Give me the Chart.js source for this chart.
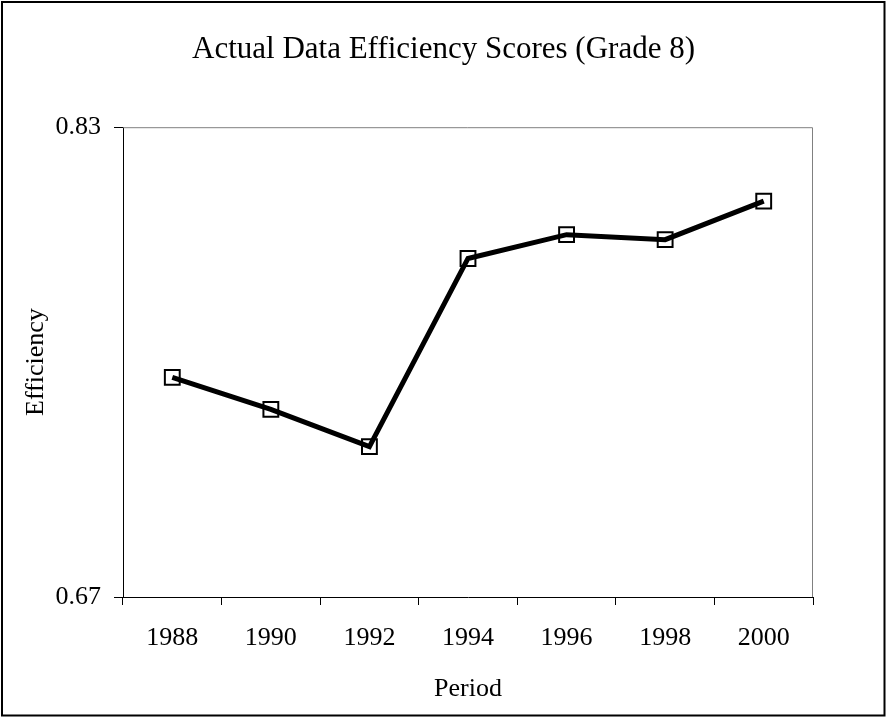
<!DOCTYPE html>
<html>
<head>
<meta charset="utf-8">
<title>Actual Data Efficiency Scores (Grade 8)</title>
<script src="https://cdn.jsdelivr.net/npm/chart.js@4"></script>
<style>
  html, body { margin: 0; padding: 0; background: #fff; }
  canvas { display: block; }
</style>
</head>
<body>
<canvas id="chart" width="887" height="717"></canvas>
<script>
// data
const periods = ['1988', '1990', '1992', '1994', '1996', '1998', '2000'];
const efficiency = [0.7448, 0.7339, 0.7212, 0.7853, 0.7934, 0.7917, 0.8048];
const yTicks = [0.67, 0.83];

// outer frame + grey top/right edge of the plot area
const framePlugin = {
  id: 'frame',
  beforeDatasetsDraw(chart) {
    const { ctx, chartArea: a } = chart;
    ctx.save();
    ctx.strokeStyle = '#808080';
    ctx.lineWidth = 1;
    ctx.beginPath();
    ctx.moveTo(a.left, a.top + 0.5);
    ctx.lineTo(a.right - 0.5, a.top + 0.5);
    ctx.lineTo(a.right - 0.5, a.bottom);
    ctx.stroke();
    ctx.restore();
  },
  afterDraw(chart) {
    const ctx = chart.ctx;
    ctx.save();
    ctx.strokeStyle = '#000';
    ctx.lineWidth = 2;
    ctx.strokeRect(2, 2, 882.5, 713.5);
    ctx.restore();
  }
};

Chart.defaults.font.family = '"Liberation Serif", "Times New Roman", serif';
Chart.defaults.color = '#000';

new Chart(document.getElementById('chart'), {
  type: 'line',
  data: {
    labels: periods,
    datasets: [{
      label: 'Efficiency',
      data: efficiency,
      yAxisID: 'y',
      borderColor: '#000',
      borderWidth: 5,
      tension: 0,
      pointStyle: 'rect',
      pointRadius: 10.5,
      pointBorderWidth: 2,
      pointBorderColor: '#000',
      pointBackgroundColor: 'rgba(0,0,0,0)',
    }],
  },
  options: {
    responsive: false,
    animation: false,
    layout: {
      padding: 0,
    },
    plugins: {
      legend: { display: false },
      tooltip: { enabled: false },
      title: {
        display: true,
        text: 'Actual Data Efficiency Scores (Grade 8)',
        font: { size: 31, weight: 'normal' },
        color: '#000',
        padding: { top: 31, bottom: 59 },
      },
    },
    scales: {
      x: {
        offset: true,
        grid: {
          offset: true,
          drawOnChartArea: false,
          drawTicks: true,
          tickLength: 8,
          tickColor: '#000',
        },
        border: { color: '#000', width: 1 },
        ticks: {
          font: { size: 26 },
          padding: 18,
          maxRotation: 0,
        },
        title: {
          display: true,
          text: 'Period',
          font: { size: 26 },
          padding: { top: 0, bottom: 12 },
        },
        afterFit(scale) { scale.height = 120; },
      },
      y: {
        min: 0.67,
        max: 0.83,
        grid: {
          drawOnChartArea: false,
          drawTicks: true,
          tickLength: 9,
          tickColor: '#000',
        },
        border: { color: '#000', width: 1 },
        ticks: {
          font: { size: 26 },
          padding: 13,
          callback: (v) => Number(v).toFixed(2),
        },
        afterBuildTicks(scale) {
          scale.ticks = yTicks.map(v => ({ value: v }));
        },
        title: {
          display: true,
          text: 'Efficiency',
          font: { size: 26 },
          padding: { top: 21, bottom: 0 },
        },
        afterFit(scale) { scale.width = 123; },
      },
      // empty right-hand axis that only reserves the white margin
      yRight: {
        position: 'right',
        min: 0.67,
        max: 0.83,
        grid: { display: false },
        border: { display: false },
        ticks: { display: false },
        afterFit(scale) { scale.width = 74; },
      },
    },
  },
  plugins: [framePlugin],
});
</script>
</body>
</html>
